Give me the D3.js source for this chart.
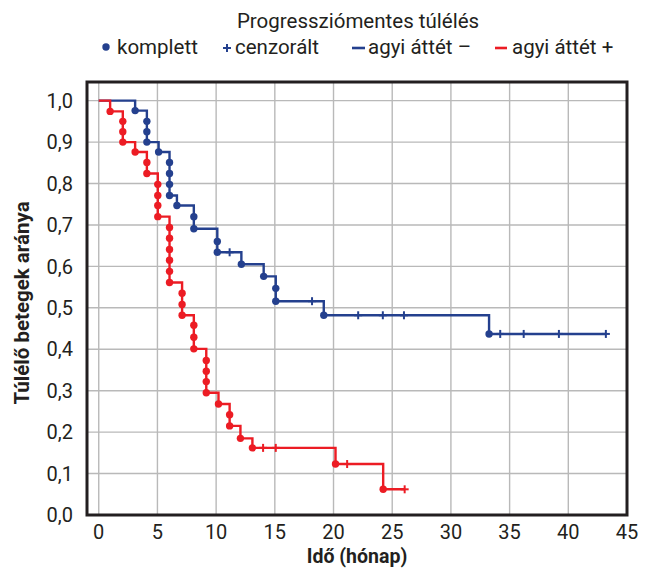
<!DOCTYPE html>
<html>
<head>
<meta charset="utf-8">
<script src="https://cdn.jsdelivr.net/npm/d3@7"></script>
<style>
  body { margin: 0; background: #fff; }
  text { font-family: Roboto, "DejaVu Sans", sans-serif; fill: #231f20; }
</style>
</head>
<body>
<div id="chart"></div>
<script>
// agyi áttét – (blue): death times and survival right after each death
var blueEventT = [3.1, 4.1, 4.1, 4.1, 5.1, 6.03, 6.03, 6.03, 6.03, 6.66, 8.1, 8.1, 10.1, 10.1, 12.15, 14.05, 15.08, 15.08, 19.17, 33.25];
var blueEventS = [0.976, 0.950, 0.925, 0.900, 0.876, 0.851, 0.824, 0.798, 0.771, 0.747, 0.720, 0.691, 0.660, 0.634, 0.605, 0.576, 0.547, 0.516, 0.482, 0.437];
var blueCensorT = [11.15, 18.17, 22.1, 24.2, 26.0, 34.2, 36.2, 39.2, 43.2];

// agyi áttét + (red)
var redEventT = [0.97, 2.05, 2.05, 2.05, 3.1, 4.1, 4.1, 5.03, 5.03, 5.03, 5.03, 6.03, 6.03, 6.03, 6.03, 6.03, 6.03, 7.1, 7.1, 7.1, 8.1, 8.1, 8.1, 9.16, 9.16, 9.16, 9.16, 10.2, 11.15, 11.15, 12.07, 13.09, 20.17, 24.23];
var redEventS = [0.974, 0.950, 0.925, 0.900, 0.876, 0.851, 0.824, 0.798, 0.771, 0.747, 0.720, 0.694, 0.668, 0.641, 0.615, 0.588, 0.561, 0.535, 0.508, 0.482, 0.458, 0.429, 0.401, 0.373, 0.347, 0.322, 0.295, 0.268, 0.242, 0.215, 0.185, 0.162, 0.123, 0.062];
var redCensorT = [14.0, 15.08, 21.16, 26.06];

var xTicks = [0, 5, 10, 15, 20, 25, 30, 35, 40, 45];
var yTicks = [0, 0.1, 0.2, 0.3, 0.4, 0.5, 0.6, 0.7, 0.8, 0.9, 1.0];

var title = "Progressziómentes túlélés";
var legendLabels = ["komplett", "cenzorált", "agyi áttét –", "agyi áttét +"];

var blue = "#24408e", red = "#ec1c24", grid = "#b9b9b9", ink = "#231f20";

var width = 649, height = 570;
var margin = { top: 82, right: 22, bottom: 55, left: 87 };

var svg = d3.select("#chart")
  .append("svg")
  .attr("width", width)
  .attr("height", height);

var x = d3.scaleLinear().domain([-1, 45]).range([margin.left, width - margin.right]);
var y = d3.scaleLinear().domain([0, 1.045]).range([height - margin.bottom, margin.top]);

// grid lines
svg.append("g").selectAll("line")
  .data(xTicks.filter(function (d) { return d > -1 && d < 45; }))
  .join("line")
  .attr("x1", function (d) { return x(d); })
  .attr("x2", function (d) { return x(d); })
  .attr("y1", y(0))
  .attr("y2", y(1.045))
  .attr("stroke", grid)
  .attr("stroke-width", 1.4);

svg.append("g").selectAll("line")
  .data(yTicks.filter(function (d) { return d > 0; }))
  .join("line")
  .attr("x1", x(-1))
  .attr("x2", x(45))
  .attr("y1", function (d) { return y(d); })
  .attr("y2", function (d) { return y(d); })
  .attr("stroke", grid)
  .attr("stroke-width", 1.4);

// tick labels
var fmt = function (d) { return d3.format(".1f")(d).replace(".", ","); };
svg.append("g").selectAll("text")
  .data(yTicks)
  .join("text")
  .attr("x", margin.left - 14)
  .attr("y", function (d) { return y(d); })
  .attr("dy", "0.36em")
  .attr("text-anchor", "end")
  .style("font-size", "20px")
  .text(fmt);

svg.append("g").selectAll("text")
  .data(xTicks)
  .join("text")
  .attr("x", function (d) { return x(d); })
  .attr("y", y(0) + 24)
  .attr("text-anchor", "middle")
  .style("font-size", "20px")
  .text(function (d) { return d; });

// one KM curve from its arrays
function drawCurve(eventT, eventS, censorT, color) {
  var pts = [[0, 1]];
  eventT.forEach(function (t, i) { pts.push([t, eventS[i]]); });
  var tEnd = Math.max(d3.max(eventT), d3.max(censorT));
  pts.push([tEnd, eventS[eventS.length - 1]]);

  var survAt = function (t) {
    var s = 1;
    eventT.forEach(function (e, i) { if (e <= t) s = eventS[i]; });
    return s;
  };

  svg.append("path")
    .datum(pts)
    .attr("fill", "none")
    .attr("stroke", color)
    .attr("stroke-width", 2.4)
    .attr("d", d3.line()
      .x(function (d) { return x(d[0]); })
      .y(function (d) { return y(d[1]); })
      .curve(d3.curveStepAfter));

  svg.append("g").selectAll("circle")
    .data(eventT.map(function (t, i) { return [t, eventS[i]]; }))
    .join("circle")
    .attr("cx", function (d) { return x(d[0]); })
    .attr("cy", function (d) { return y(d[1]); })
    .attr("r", 3.7)
    .attr("fill", color);

  var c = svg.append("g").selectAll("g")
    .data(censorT)
    .join("g")
    .attr("transform", function (d) { return "translate(" + x(d) + "," + y(survAt(d)) + ")"; });
  c.append("line").attr("x1", 0).attr("x2", 0).attr("y1", -4).attr("y2", 4)
    .attr("stroke", color).attr("stroke-width", 2);
  c.append("line").attr("x1", -4).attr("x2", 4).attr("y1", 0).attr("y2", 0)
    .attr("stroke", color).attr("stroke-width", 2);
}

drawCurve(blueEventT, blueEventS, blueCensorT, blue);
drawCurve(redEventT, redEventS, redCensorT, red);

// frame
svg.append("rect")
  .attr("x", x(-1))
  .attr("y", y(1.045))
  .attr("width", x(45) - x(-1))
  .attr("height", y(0) - y(1.045))
  .attr("fill", "none")
  .attr("stroke", ink)
  .attr("stroke-width", 3);

// axis titles
svg.append("text")
  .attr("x", 357)
  .attr("y", 563)
  .attr("text-anchor", "middle")
  .style("font-size", "19.5px")
  .style("font-weight", "bold")
  .text("Idő (hónap)");

svg.append("text")
  .attr("transform", "translate(29," + 303 + ") rotate(-90)")
  .attr("text-anchor", "middle")
  .style("font-size", "20.5px")
  .style("font-weight", "bold")
  .text("Túlélő betegek aránya");

// title + legend
svg.append("text")
  .attr("x", 358)
  .attr("y", 28)
  .attr("text-anchor", "middle")
  .style("font-size", "20.5px")
  .text(title);

var ly = 47;
svg.append("circle").attr("cx", 106).attr("cy", ly).attr("r", 3.7).attr("fill", blue);
svg.append("line").attr("x1", 223).attr("x2", 231).attr("y1", ly + 1).attr("y2", ly + 1).attr("stroke", blue).attr("stroke-width", 2);
svg.append("line").attr("x1", 227).attr("x2", 227).attr("y1", ly - 3).attr("y2", ly + 5).attr("stroke", blue).attr("stroke-width", 2);
svg.append("line").attr("x1", 352).attr("x2", 365).attr("y1", ly + 1).attr("y2", ly + 1).attr("stroke", blue).attr("stroke-width", 2.6);
svg.append("line").attr("x1", 495).attr("x2", 507).attr("y1", ly + 1).attr("y2", ly + 1).attr("stroke", red).attr("stroke-width", 2.6);

var legendX = [117, 235, 368, 512];
svg.append("g").selectAll("text")
  .data(legendLabels)
  .join("text")
  .attr("x", function (d, i) { return legendX[i]; })
  .attr("y", ly + 7)
  .style("font-size", "20.5px")
  .text(function (d) { return d; });
</script>
</body>
</html>
